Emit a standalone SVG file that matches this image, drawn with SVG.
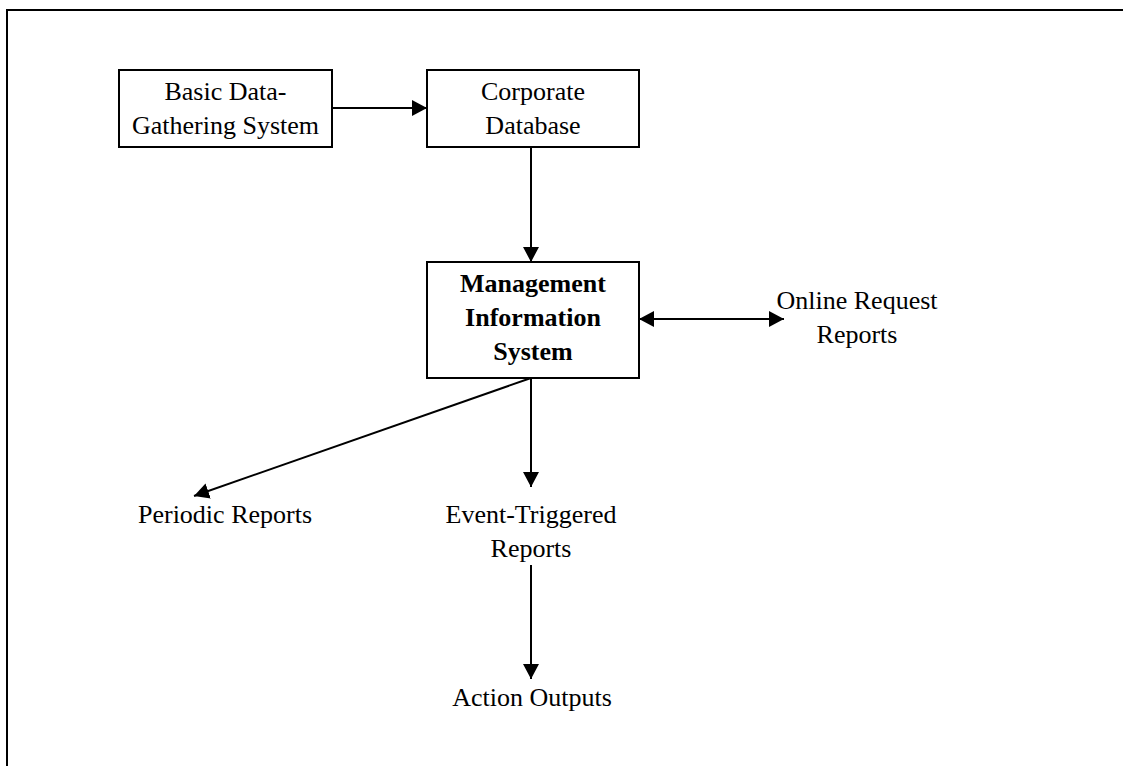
<svg xmlns="http://www.w3.org/2000/svg" width="1123" height="766" viewBox="0 0 1123 766">
<style>
.box{fill:#fff;stroke:#000;stroke-width:2}
.t{font-family:"Liberation Serif","Times New Roman",serif;font-size:26px;fill:#000;text-anchor:middle}
.b{font-weight:bold}
.c{stroke:#000;stroke-width:2;fill:none}
</style>
<defs>
<marker id="ah" markerUnits="userSpaceOnUse" markerWidth="16" markerHeight="16" refX="15" refY="8" orient="auto-start-reverse" viewBox="0 0 16 16">
<path d="M0,0 L15,8 L0,16 z" fill="#000"/>
</marker>
</defs>
<rect width="1123" height="766" fill="#fff"/>
<path d="M7,766 V10 H1123" fill="none" stroke="#000" stroke-width="2"/>
<g id="connectors">
<line class="c" x1="332" y1="108" x2="427" y2="108" marker-end="url(#ah)"/>
<line class="c" x1="531" y1="147" x2="531" y2="262" marker-end="url(#ah)"/>
<line class="c" x1="639" y1="319" x2="784" y2="319" marker-start="url(#ah)" marker-end="url(#ah)"/>
<line class="c" x1="531" y1="378" x2="194" y2="496" marker-end="url(#ah)"/>
<line class="c" x1="531" y1="378" x2="531" y2="487" marker-end="url(#ah)"/>
<line class="c" x1="531" y1="565" x2="531" y2="679" marker-end="url(#ah)"/>
</g>
<g id="basic">
<rect class="box" x="119" y="70" width="213" height="77"/>
<text class="t" x="225.5" y="100">Basic Data-</text>
<text class="t" x="225.5" y="134">Gathering System</text>
</g>
<g id="corporate">
<rect class="box" x="427" y="70" width="212" height="77"/>
<text class="t" x="533" y="100">Corporate</text>
<text class="t" x="533" y="134">Database</text>
</g>
<g id="mis">
<rect class="box" x="427" y="262" width="212" height="116"/>
<text class="t b" x="533" y="292">Management</text>
<text class="t b" x="533" y="326">Information</text>
<text class="t b" x="533" y="360">System</text>
</g>
<g id="online">
<text class="t" x="857" y="309">Online Request</text>
<text class="t" x="857" y="343">Reports</text>
</g>
<g id="periodic">
<text class="t" x="225" y="523">Periodic Reports</text>
</g>
<g id="event">
<text class="t" x="531" y="523">Event-Triggered</text>
<text class="t" x="531" y="557">Reports</text>
</g>
<g id="action">
<text class="t" x="532" y="706">Action Outputs</text>
</g>
</svg>
